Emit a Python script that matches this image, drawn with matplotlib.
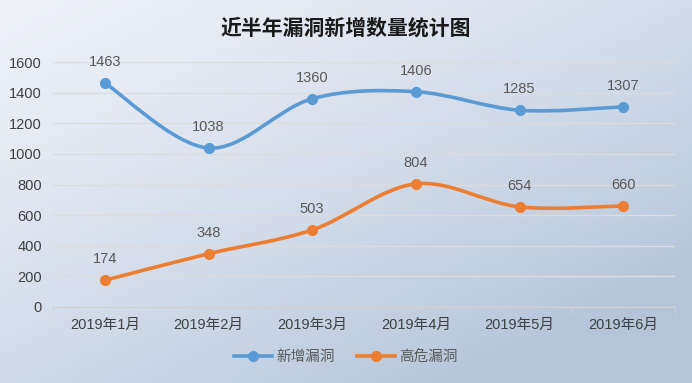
import numpy as np
import matplotlib
matplotlib.use('Agg')
import matplotlib.pyplot as plt
from matplotlib.path import Path
from matplotlib.patches import PathPatch

plt.rcParams['font.family'] = ['Liberation Sans', 'Noto Sans CJK SC', 'DejaVu Sans']

months = ['2019年1月', '2019年2月', '2019年3月', '2019年4月', '2019年5月', '2019年6月']
new_vuln = [1463, 1038, 1360, 1406, 1285, 1307]
high_vuln = [174, 348, 503, 804, 654, 660]
yticks = [0, 200, 400, 600, 800, 1000, 1200, 1400, 1600]

c_blue = '#5b9bd5'
c_orange = '#ed7d31'


def smooth_path(xs, ys):
    # catmull-rom style bezier, similar to excel smoothed lines
    pts = np.column_stack([xs, ys]).astype(float)
    n = len(pts)
    verts = [pts[0]]
    codes = [Path.MOVETO]
    for i in range(n - 1):
        p0 = pts[i - 1] if i > 0 else pts[i]
        p1 = pts[i]
        p2 = pts[i + 1]
        p3 = pts[i + 2] if i + 2 < n else pts[i + 1]
        c1 = p1 + (p2 - p0) / 6.0
        c2 = p2 - (p3 - p1) / 6.0
        verts += [c1, c2, p2]
        codes += [Path.CURVE4] * 3
    return Path(verts, codes)


fig = plt.figure(figsize=(6.92, 3.83), dpi=100)

# background gradient
bg = fig.add_axes([0, 0, 1, 1], zorder=-10)
gx, gy = np.meshgrid(np.linspace(0, 1, 200), np.linspace(0, 1, 120))
t = np.clip(0.55 * gx + 0.6 * gy, 0, 1) ** 1.3
top = np.array([0xee, 0xf1, 0xf8]) / 255.0
bot = np.array([0xb4, 0xc5, 0xda]) / 255.0
img = top[None, None, :] * (1 - t[..., None]) + bot[None, None, :] * t[..., None]
bg.imshow(img, aspect='auto', extent=[0, 1, 0, 1], origin='upper')
bg.axis('off')

ax = fig.add_axes([53 / 692, 1 - 307 / 383, 622 / 692, 245 / 383])
ax.patch.set_alpha(0)
x = np.arange(len(months))

for vals, col, lab in [(new_vuln, c_blue, '新增漏洞'), (high_vuln, c_orange, '高危漏洞')]:
    ax.add_patch(PathPatch(smooth_path(x, vals), facecolor='none', edgecolor=col,
                           lw=2.6, capstyle='round', zorder=3, clip_on=False))
    ax.plot(x, vals, 'o', color=col, ms=7, zorder=4, clip_on=False)
    ax.plot([], [], '-o', color=col, lw=2.6, ms=7, label=lab)
    for xi, v in zip(x, vals):
        ax.annotate(str(v), (xi, v), xytext=(0, 10), textcoords='offset points',
                    ha='center', va='bottom', fontsize=10.5, color='#595959', zorder=5)

ax.set_xlim(-0.5, len(months) - 0.5)
ax.set_ylim(0, 1600)
ax.set_yticks(yticks)
ax.set_xticks(x)
ax.set_xticklabels(months)
ax.set_xticks(np.arange(-0.5, len(months)), minor=True)
ax.tick_params(axis='y', length=0, labelsize=10.5, labelcolor='#404040', pad=8)
ax.tick_params(axis='x', which='major', length=0, labelsize=10.5, labelcolor='#404040', pad=8)
ax.tick_params(axis='x', which='minor', length=5, color='#d0d0d0')
ax.grid(axis='y', color='#dcdcdc', lw=1)
ax.set_axisbelow(True)
for s in ['top', 'right', 'left']:
    ax.spines[s].set_visible(False)
ax.spines['bottom'].set_color('#d0d0d0')

fig.text(0.5, 1 - 28 / 383, '近半年漏洞新增数量统计图', ha='center', va='center',
         fontsize=15, fontweight='bold', color='#1a1a1a',
         family=['Noto Sans CJK SC', 'DejaVu Sans'])

fig.legend(loc='center', bbox_to_anchor=(0.5, 1 - 357 / 383), ncol=2, frameon=False,
           fontsize=10.5, labelcolor='#595959', handlelength=2.6, columnspacing=1.5,
           handletextpad=0.3)

fig.savefig('out.png', dpi=100)
